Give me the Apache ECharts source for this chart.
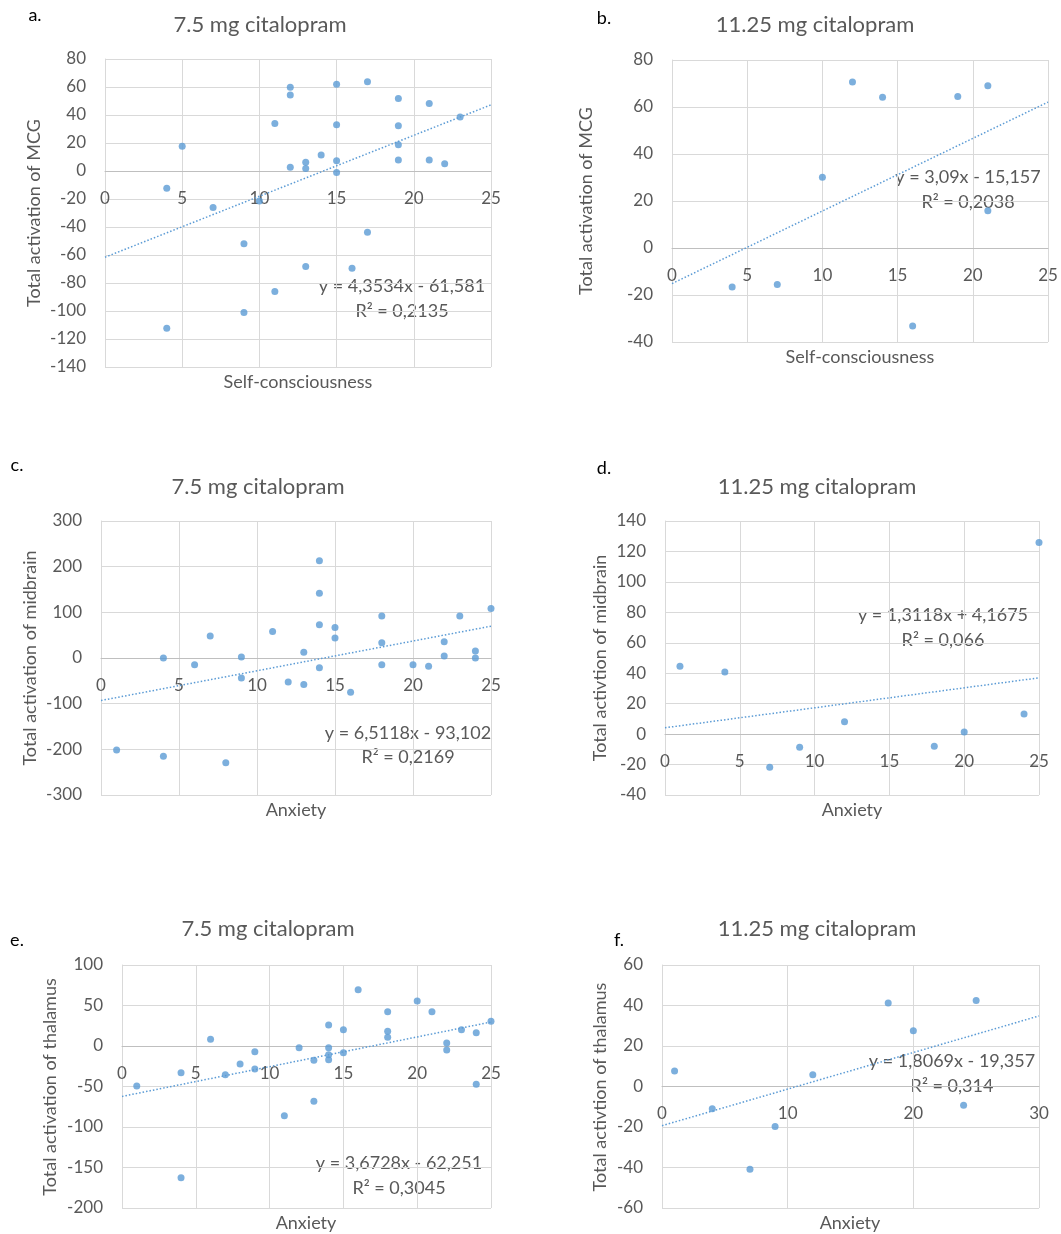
<!DOCTYPE html>
<html><head><meta charset="utf-8">
<script src="https://cdn.jsdelivr.net/npm/echarts@6/dist/echarts.min.js"></script>
<style>html,body{margin:0;padding:0;background:#fff}#c{width:1061px;height:1234px}</style>
</head><body><div id="c"></div>
<script>
// ---------- data ----------
const selfA = [4,4,5,7,9,9,10,11,11,12,12,12,13,13,13,14,15,15,15,15,16,17,17,19,19,19,19,21,21,22,23];
const mcgA  = [-12.4,-112.4,17.6,-26,-51.9,-101,-21.4,34,-86,59.8,54.3,2.6,6.2,1.7,-68.3,11.4,61.9,33.1,7.4,-1,-69.5,63.8,-43.8,51.7,32.4,18.8,7.9,48.3,7.9,5.2,38.6];
const selfB = [4,7,10,12,14,16,19,21,21];
const mcgB  = [-16.6,-15.5,30.1,70.6,64.2,-33.2,64.5,69,15.8];
const anxC  = [1,4,4,6,7,8,9,9,11,12,13,13,14,14,14,14,15,15,16,18,18,18,20,21,22,22,23,24,24,25];
const midC  = [-201.7,0,-214.9,-14.6,48.1,-229.4,2.2,-43.7,58.3,-52.4,12.4,-58.3,212.7,142,72.8,-21.1,67,43.7,-75,91.8,33.5,-14.6,-14.6,-18.2,35.7,4.4,91.8,15.3,0,108.5];
const anxD  = [1,4,7,9,12,18,20,24,25];
const midD  = [44.5,40.8,-21.8,-8.7,8.2,-8,1.4,13.2,125.9];
const anxE  = [1,4,4,6,7,8,9,9,11,12,13,13,14,14,14,14,15,15,16,18,18,18,20,21,22,22,23,24,24,25];
const thalE = [-49.4,-32.9,-162.6,8.2,-35.4,-22.2,-7,-28.4,-86,-2.1,-17.7,-68.3,25.9,-2.1,-10.7,-16.9,20.2,-8.2,69.5,42.4,18.1,10.7,55.6,42.4,3.7,-4.9,20.2,16.5,-47.3,30.5];
const anxF  = [1,4,7,9,12,18,20,24,25];
const thalF = [7.7,-11,-40.9,-19.8,5.8,41.2,27.5,-9.2,42.5];

const slopes     = [4.3534, 3.09, 6.5118, 1.3118, 3.6728, 1.8069];
const intercepts = [-61.581, -15.157, -93.102, 4.1675, -62.251, -19.357];
const eqLabels   = ['y = 4,3534x - 61,581','y = 3,09x - 15,157','y = 6,5118x - 93,102','y = 1,3118x + 4,1675','y = 3,6728x - 62,251','y = 1,8069x - 19,357'];
const r2Labels   = ['R² = 0,2135','R² = 0,2038','R² = 0,2169','R² = 0,066','R² = 0,3045','R² = 0,314'];
const panelTags  = ['a.','b.','c.','d.','e.','f.'];
const titles     = ['7.5 mg citalopram','11.25 mg citalopram','7.5 mg citalopram','11.25 mg citalopram','7.5 mg citalopram','11.25 mg citalopram'];
const xNames     = ['Self-consciousness','Self-consciousness','Anxiety','Anxiety','Anxiety','Anxiety'];
const yNames     = ['Total activation of MCG','Total activation of MCG','Total activation of midbrain','Total activtion of midbrain','Total activation of thalamus','Total activtion of thalamus'];
const xMax   = [25,25,25,25,25,30];
const xStep  = [5,5,5,5,5,10];
const yMin   = [-140,-40,-300,-40,-200,-60];
const yMax   = [80,80,300,140,100,60];
const yStep  = [20,20,100,20,50,20];

// ---------- layout ----------
const xs = [selfA, selfB, anxC, anxD, anxE, anxF];
const ys = [mcgA, mcgB, midC, midD, thalE, thalF];
const grids = [
  {left:105, top:59,  width:386, height:308},
  {left:672, top:60,  width:376, height:282},
  {left:101, top:521, width:390, height:274},
  {left:665, top:521, width:374, height:274},
  {left:122, top:965, width:369, height:243},
  {left:662, top:965, width:377, height:243}
];
const tagPos   = [[35,15],[604,18],[17,465],[604,468],[17,940],[619,940]];
const titlePos = [[260,25],[815,25],[258,487],[817,487],[268,929],[817,929]];
const xNamePos = [[298,382],[860,357],[296,810],[852,810],[306,1223],[850,1223]];
const yNamePos = [[34,213],[586,201],[30,658],[600,658],[50,1087],[600,1087]];
const eqPos    = [[402,286],[968,177],[408,733],[943,615],[399,1163],[952,1061]];
const r2Pos    = [[402,311],[968,202],[408,757],[943,640],[399,1188],[952,1086]];

const FONT = 'Lato, "Open Sans", sans-serif';
const GREY = '#595959';
const BLUE = '#5b9bd5';

const option = {
  backgroundColor:'#fff',
  animation:false,
  grid: grids.map(g => Object.assign({containLabel:false}, g)),
  xAxis: grids.map((g,i) => ({
    type:'value', gridIndex:i, min:0, max:xMax[i], interval:xStep[i],
    position:'bottom',
    // place the axis (line + labels) where y = 0 crosses, as in the source
    offset: -g.height * (0 - yMin[i]) / (yMax[i] - yMin[i]),
    axisLine:{show:true, onZero:false, lineStyle:{color:'#bfbfbf', width:1}},
    axisTick:{show:false},
    axisLabel:{color:GREY, fontSize:17, fontFamily:FONT, margin:19, showMinLabel:true, showMaxLabel:true},
    splitLine:{show:true, lineStyle:{color:'#d9d9d9', width:1}}
  })),
  yAxis: grids.map((g,i) => ({
    type:'value', gridIndex:i, min:yMin[i], max:yMax[i], interval:yStep[i],
    axisLine:{show:true, onZero:false, lineStyle:{color:'#d9d9d9', width:1}},
    axisTick:{show:false},
    axisLabel:{color:GREY, fontSize:17, fontFamily:FONT, margin:19},
    splitLine:{show:true, lineStyle:{color:'#d9d9d9', width:1}}
  })),
  series: [],
  graphic: []
};

xs.forEach((xv,i) => {
  option.series.push({
    type:'scatter', xAxisIndex:i, yAxisIndex:i, symbolSize:7,
    itemStyle:{color:BLUE}, data: xv.map((x,k)=>[x, ys[i][k]])
  });
  option.series.push({
    type:'line', xAxisIndex:i, yAxisIndex:i, symbol:'none', silent:true,
    lineStyle:{color:BLUE, width:1.5, type:[1.5,2]},
    data:[[0, intercepts[i]], [xMax[i], slopes[i]*xMax[i] + intercepts[i]]]
  });
  const txt = (t, p, size, color, rot) => ({
    type:'text', x:p[0], y:p[1], rotation: rot||0,
    style:{text:t, fill:color, fontSize:size, fontFamily:FONT,
           align:'center', verticalAlign:'middle', textAlign:'center', textVerticalAlign:'middle'}
  });
  option.graphic.push(txt(panelTags[i], tagPos[i], 18, '#000'));
  option.graphic.push(txt(titles[i], titlePos[i], 22, GREY));
  option.graphic.push(txt(xNames[i], xNamePos[i], 18, GREY));
  option.graphic.push(txt(yNames[i], yNamePos[i], 18, GREY, Math.PI/2));
  option.graphic.push(txt(eqLabels[i], eqPos[i], 18, GREY));
  option.graphic.push(txt(r2Labels[i], r2Pos[i], 18, GREY));
});

const chart = echarts.init(document.getElementById('c'), null, {renderer:'canvas'});
chart.setOption(option);
</script>
</body></html>
